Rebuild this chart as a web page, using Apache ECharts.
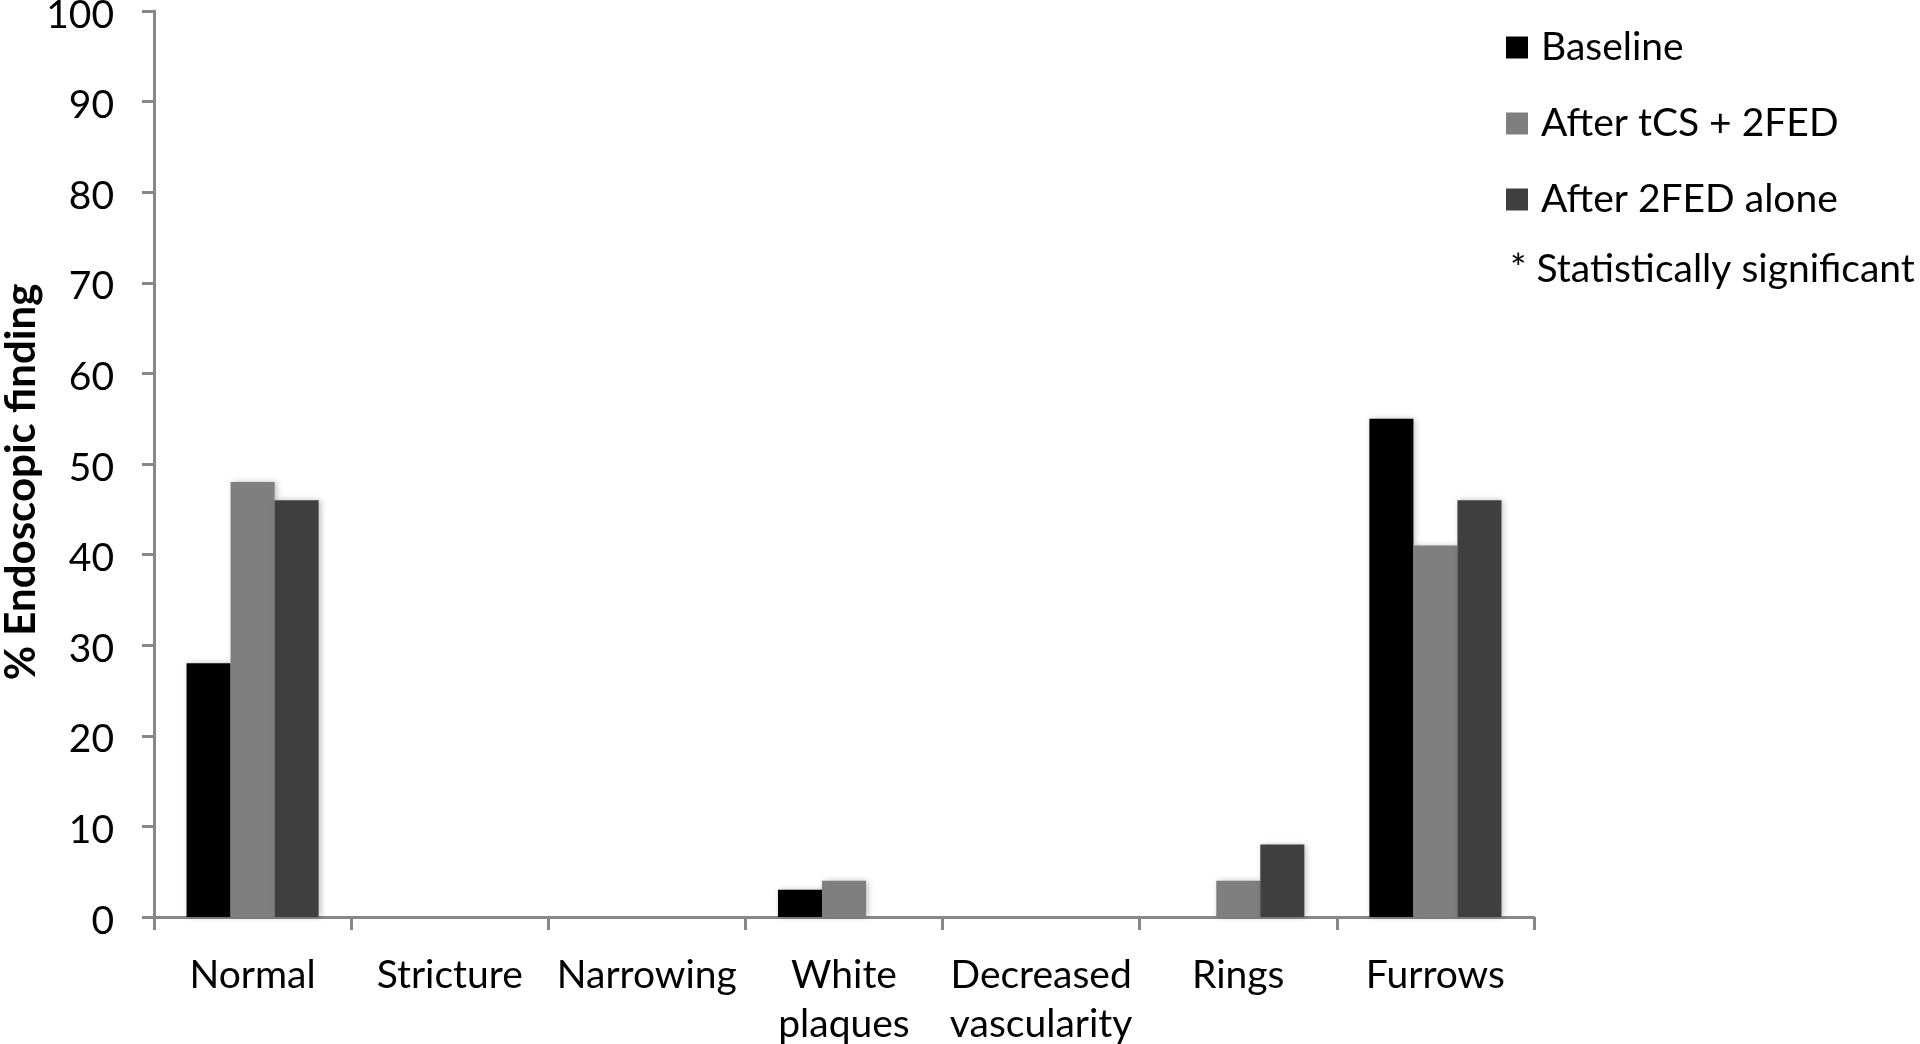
<!DOCTYPE html>
<html>
<head>
<meta charset="utf-8">
<script src="https://cdn.jsdelivr.net/npm/echarts@6/dist/echarts.min.js"></script>
<style>
html,body{margin:0;padding:0;background:#fff;}
#chart{width:1920px;height:1044px;}
</style>
</head>
<body>
<div id="chart"></div>
<script>
const categories = ['Normal', 'Stricture', 'Narrowing', 'White\nplaques', 'Decreased\nvascularity', 'Rings', 'Furrows'];
const seriesNames = ['Baseline', 'After tCS + 2FED', 'After 2FED alone'];
const baseline = [28, 0, 0, 3, 0, 0, 55];
const afterTcs2fed = [48, 0, 0, 4, 0, 4, 41];
const after2fedAlone = [46, 0, 0, 0, 0, 8, 46];
const yTicks = { min: 0, max: 100, interval: 10 };
const yAxisTitle = '% Endoscopic finding';
const noteText = '* Statistically significant';

const colors = ['#000000', '#7f7f7f', '#3f3f3f'];
const FONT = 'Lato';

const chart = echarts.init(document.getElementById('chart'));
const mkSeries = (name, data, i) => ({
  name: name,
  type: 'bar',
  data: data,
  barGap: '0%',
  barCategoryGap: '33%',
  itemStyle: {
    color: colors[i],
    shadowBlur: 6,
    shadowColor: 'rgba(0,0,0,0.25)',
    shadowOffsetX: 2,
    shadowOffsetY: 0
  },
  emphasis: { disabled: true }
});

chart.setOption({
  animation: false,
  backgroundColor: '#ffffff',
  textStyle: { fontFamily: FONT },
  grid: { left: 154, right: 386, top: 11, bottom: 127, containLabel: false, outerBoundsMode: 'none' },
  legend: {
    orient: 'vertical',
    left: 1506,
    top: 24,
    padding: 0,
    itemWidth: 22,
    itemHeight: 22,
    itemGap: 29,
    icon: 'rect',
    textStyle: { fontFamily: FONT, fontSize: 39, color: '#000', lineHeight: 47, padding: [0, 0, 0, 8] },
    data: seriesNames
  },
  xAxis: {
    type: 'category',
    data: categories,
    boundaryGap: true,
    axisLine: { lineStyle: { color: '#888888', width: 3 } },
    axisTick: { show: true, length: 13, alignWithLabel: false, lineStyle: { color: '#888888', width: 3 } },
    axisLabel: { color: '#000', fontFamily: FONT, fontSize: 39, lineHeight: 49, margin: 34, interval: 0 }
  },
  yAxis: {
    type: 'value',
    min: yTicks.min,
    max: yTicks.max,
    interval: yTicks.interval,
    splitLine: { show: false },
    axisLine: { show: true, lineStyle: { color: '#888888', width: 3 } },
    axisTick: { show: true, length: 12, lineStyle: { color: '#888888', width: 3 } },
    axisLabel: {
      color: '#000', fontFamily: FONT, fontSize: 39, margin: 40,
      formatter: '{t|{value}}',
      rich: { t: { fontFamily: FONT, fontSize: 39, color: '#000', padding: [8, 0, 0, 0] } }
    }
  },
  graphic: [{
    type: 'text',
    left: 1510,
    top: 250,
    style: { text: noteText, fontFamily: FONT, fontSize: 39, fill: '#000' }
  }, {
    type: 'text',
    x: 21,
    y: 482,
    rotation: Math.PI / 2,
    style: { text: yAxisTitle, fontFamily: FONT, fontSize: 42, fontWeight: 'bold', fill: '#000', align: 'center', verticalAlign: 'middle' }
  }],
  series: [
    mkSeries(seriesNames[0], baseline, 0),
    mkSeries(seriesNames[1], afterTcs2fed, 1),
    mkSeries(seriesNames[2], after2fedAlone, 2)
  ]
});
</script>
</body>
</html>
